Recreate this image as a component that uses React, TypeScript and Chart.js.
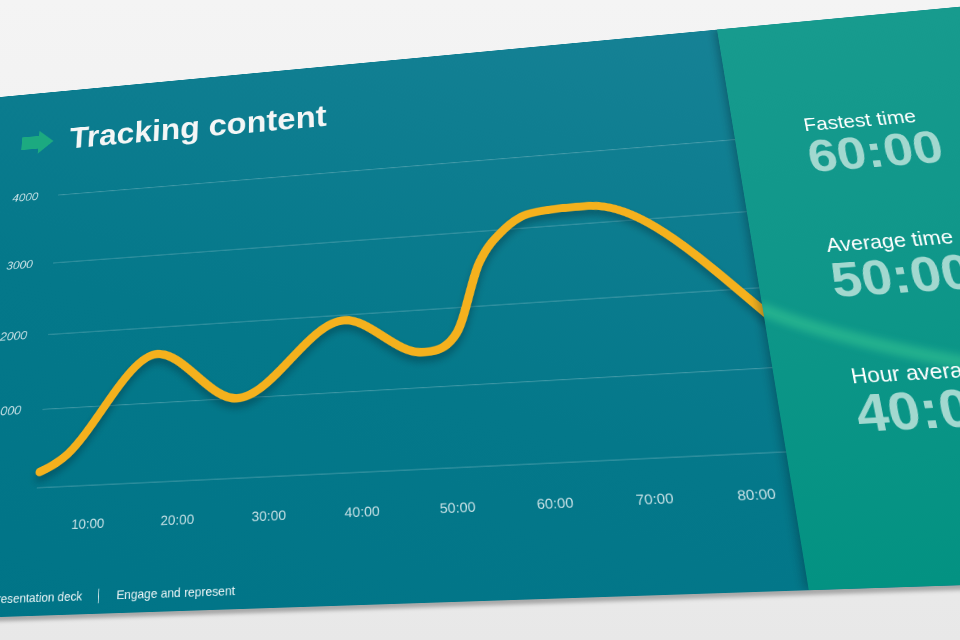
import React, { useEffect, useRef } from 'react';
import { Chart, registerables } from 'chart.js';

Chart.register(...registerables);

// ---- data ----
const minuteMarks = [10, 20, 30, 40, 50, 60, 70, 80];
const minuteLabels = ['10:00', '20:00', '30:00', '40:00', '50:00', '60:00', '70:00', '80:00'];
const valueTicks = [0, 1000, 2000, 3000, 4000];
const trackMinutes = [4.1, 5.2, 7.1, 17.1, 26.4, 38.6, 47.1, 51, 54, 57, 60.2, 66.5, 90];
const trackValues = [200, 254, 395, 1640, 1000, 1930, 1450, 1667, 2573, 3000, 3200, 3240, 950];
const statLabels = ['Fastest time', 'Average time', 'Hour average'];
const statValues = ['60:00', '50:00', '40:00'];

// ---- slide perspective (layout only) ----
const SLIDE_W = 1400;
const SLIDE_H = 720;
const srcQuad: [number, number][] = [[100, 0], [100, 720], [1010, 0], [1010, 720]];
const dstQuad: [number, number][] = [[65.8, 90.8], [27.4, 616.1], [717.1, 29.6], [808.9, 590.3]];

function homography(src: [number, number][], dst: [number, number][]): number[] {
  const M: number[][] = [];
  for (let k = 0; k < 4; k++) {
    const [x, y] = src[k];
    const [u, v] = dst[k];
    M.push([x, y, 1, 0, 0, 0, -x * u, -y * u, u]);
    M.push([0, 0, 0, x, y, 1, -x * v, -y * v, v]);
  }
  for (let c = 0; c < 8; c++) {
    let p = c;
    for (let r = c + 1; r < 8; r++) if (Math.abs(M[r][c]) > Math.abs(M[p][c])) p = r;
    const tmp = M[c]; M[c] = M[p]; M[p] = tmp;
    for (let r = 0; r < 8; r++) {
      if (r === c) continue;
      const f = M[r][c] / M[c][c];
      for (let k = c; k < 9; k++) M[r][k] -= f * M[c][k];
    }
  }
  return M.map((row, i) => row[8] / row[i]);
}

const [ha, hb, hc, hd, he, hf, hg, hh] = homography(srcQuad, dstQuad);
const slideTransform = `matrix3d(${ha},${hd},0,${hg},${hb},${he},0,${hh},0,0,1,0,${hc},${hf},0,1)`;

const FONT = '"Liberation Sans", Arial, Helvetica, sans-serif';

const lineShadow = {
  id: 'lineShadow',
  beforeDatasetDraw(chart: any) {
    const ctx = chart.ctx;
    ctx.save();
    ctx.shadowColor = 'rgba(0, 35, 45, 0.38)';
    ctx.shadowBlur = 20;
    ctx.shadowOffsetY = 14;
  },
  afterDatasetDraw(chart: any) {
    chart.ctx.restore();
  },
};

export default function App() {
  const canvasRef = useRef<HTMLCanvasElement>(null);

  useEffect(() => {
    const canvas = canvasRef.current;
    if (!canvas) return;
    const chart = new Chart(canvas, {
      type: 'line',
      data: {
        datasets: [
          {
            data: trackMinutes.map((x, i) => ({ x, y: trackValues[i] })),
            borderColor: '#F4B11D',
            borderWidth: 11,
            borderCapStyle: 'round',
            borderJoinStyle: 'round',
            pointRadius: 0,
            cubicInterpolationMode: 'monotone',
            fill: false,
            clip: false as any,
          },
        ],
      },
      options: {
        animation: false,
        responsive: false,
        devicePixelRatio: 2,
        layout: { padding: { top: 163.6, left: 0, right: 0, bottom: 0 } },
        plugins: { legend: { display: false }, tooltip: { enabled: false } },
        scales: {
          x: {
            type: 'linear',
            min: 3.9,
            max: 90,
            afterBuildTicks: (s: any) => {
              s.ticks = minuteMarks.map((v) => ({ value: v }));
            },
            afterFit: (s: any) => {
              s.height = 153.7;
            },
            grid: { display: false },
            border: { display: false },
            ticks: {
              padding: 30,
              color: 'rgba(232, 242, 244, 0.86)',
              font: { family: FONT, size: 17 },
              callback: (v: any) => {
                const i = minuteMarks.indexOf(Number(v));
                return i >= 0 ? minuteLabels[i] : '';
              },
              maxRotation: 0,
            },
          },
          y: {
            min: 0,
            max: 4000,
            afterBuildTicks: (s: any) => {
              s.ticks = valueTicks.map((v) => ({ value: v }));
            },
            afterFit: (s: any) => {
              s.width = 100;
            },
            grid: { color: 'rgba(255,255,255,0.22)', lineWidth: 1.3, drawTicks: false },
            border: { display: false },
            ticks: {
              padding: 29,
              color: 'rgba(232, 242, 244, 0.86)',
              font: { family: FONT, size: 17, style: 'italic' },
              callback: (v: any) => (Number(v) === 0 ? '' : String(v)),
            },
          },
        },
      },
      plugins: [lineShadow],
    } as any);
    return () => chart.destroy();
  }, []);

  const statTops = [139, 304, 469];
  const valueTops = [164, 330, 494];

  return (
    <div
      style={{
        position: 'fixed',
        left: 0,
        top: 0,
        width: 960,
        height: 640,
        overflow: 'hidden',
        background: 'linear-gradient(180deg, #f4f4f4 0%, #efefef 55%, #e8e8e8 100%)',
      }}
    >
      <div
        style={{
          position: 'absolute',
          left: 0,
          top: 0,
          width: SLIDE_W,
          height: SLIDE_H,
          transformOrigin: '0 0',
          transform: slideTransform,
          background: 'linear-gradient(200deg, #1a8498 0%, #0f7e91 30%, #04788a 62%, #007487 100%)',
          boxShadow: '0 5px 4px rgba(0,0,0,0.28)',
          fontFamily: FONT,
          overflow: 'hidden',
        }}
      >
        <svg
          width={48}
          height={36}
          viewBox="0 0 48 36"
          style={{ position: 'absolute', left: 40, top: 61 }}
        >
          <polygon points="0,8 25,8 25,0 47,18 25,36 25,28 0,28" fill="#1caa80" />
        </svg>
        <div
          style={{
            position: 'absolute',
            left: 111,
            top: 54,
            fontSize: 46,
            lineHeight: 1,
            fontWeight: 700,
            color: '#f4f6f6',
            whiteSpace: 'nowrap',
          }}
        >
          Tracking content
        </div>

        <canvas
          ref={canvasRef}
          width={1084}
          height={720}
          style={{ position: 'absolute', left: 0, top: 0, width: 1084, height: 720 }}
        />

        <div
          style={{
            position: 'absolute',
            right: SLIDE_W - 168,
            top: 692,
            fontSize: 14.8,
            lineHeight: 1,
            color: 'rgba(255,255,255,0.92)',
            whiteSpace: 'nowrap',
          }}
        >
          Presentation deck
        </div>
        <div
          style={{
            position: 'absolute',
            left: 188,
            top: 691,
            width: 1.3,
            height: 17,
            background: 'rgba(255,255,255,0.8)',
          }}
        />
        <div
          style={{
            position: 'absolute',
            left: 211,
            top: 692,
            fontSize: 14.8,
            lineHeight: 1,
            color: 'rgba(255,255,255,0.92)',
            whiteSpace: 'nowrap',
          }}
        >
          Engage and represent
        </div>

        <div
          style={{
            position: 'absolute',
            left: 1010,
            top: 0,
            width: SLIDE_W - 1010,
            height: SLIDE_H,
            background: 'linear-gradient(180deg, #179b8e 0%, #10978a 45%, #039282 100%)',
            boxShadow: '-4px 0 10px rgba(0, 30, 40, 0.32)',
            overflow: 'hidden',
          }}
        >
          <svg width={390} height={720} style={{ position: 'absolute', left: 0, top: 0 }}>
            <defs>
              <filter id="glow" x="-20%" y="-20%" width="140%" height="140%">
                <feGaussianBlur stdDeviation="5" />
              </filter>
            </defs>
            <path
              d="M -4 391 Q 110 455 390 515"
              stroke="rgba(70, 215, 150, 0.42)"
              strokeWidth={16}
              fill="none"
              filter="url(#glow)"
            />
          </svg>
          {statLabels.map((label, i) => (
            <React.Fragment key={label}>
              <div
                style={{
                  position: 'absolute',
                  left: 87,
                  top: statTops[i],
                  fontSize: 25,
                  lineHeight: 1,
                  color: '#ffffff',
                  whiteSpace: 'nowrap',
                }}
              >
                {label}
              </div>
              <div
                style={{
                  position: 'absolute',
                  left: 85,
                  top: valueTops[i],
                  fontSize: 63,
                  lineHeight: 1,
                  fontWeight: 700,
                  color: '#a2d8cf',
                  whiteSpace: 'nowrap',
                }}
              >
                {statValues[i]}
              </div>
            </React.Fragment>
          ))}
        </div>
      </div>
    </div>
  );
}
